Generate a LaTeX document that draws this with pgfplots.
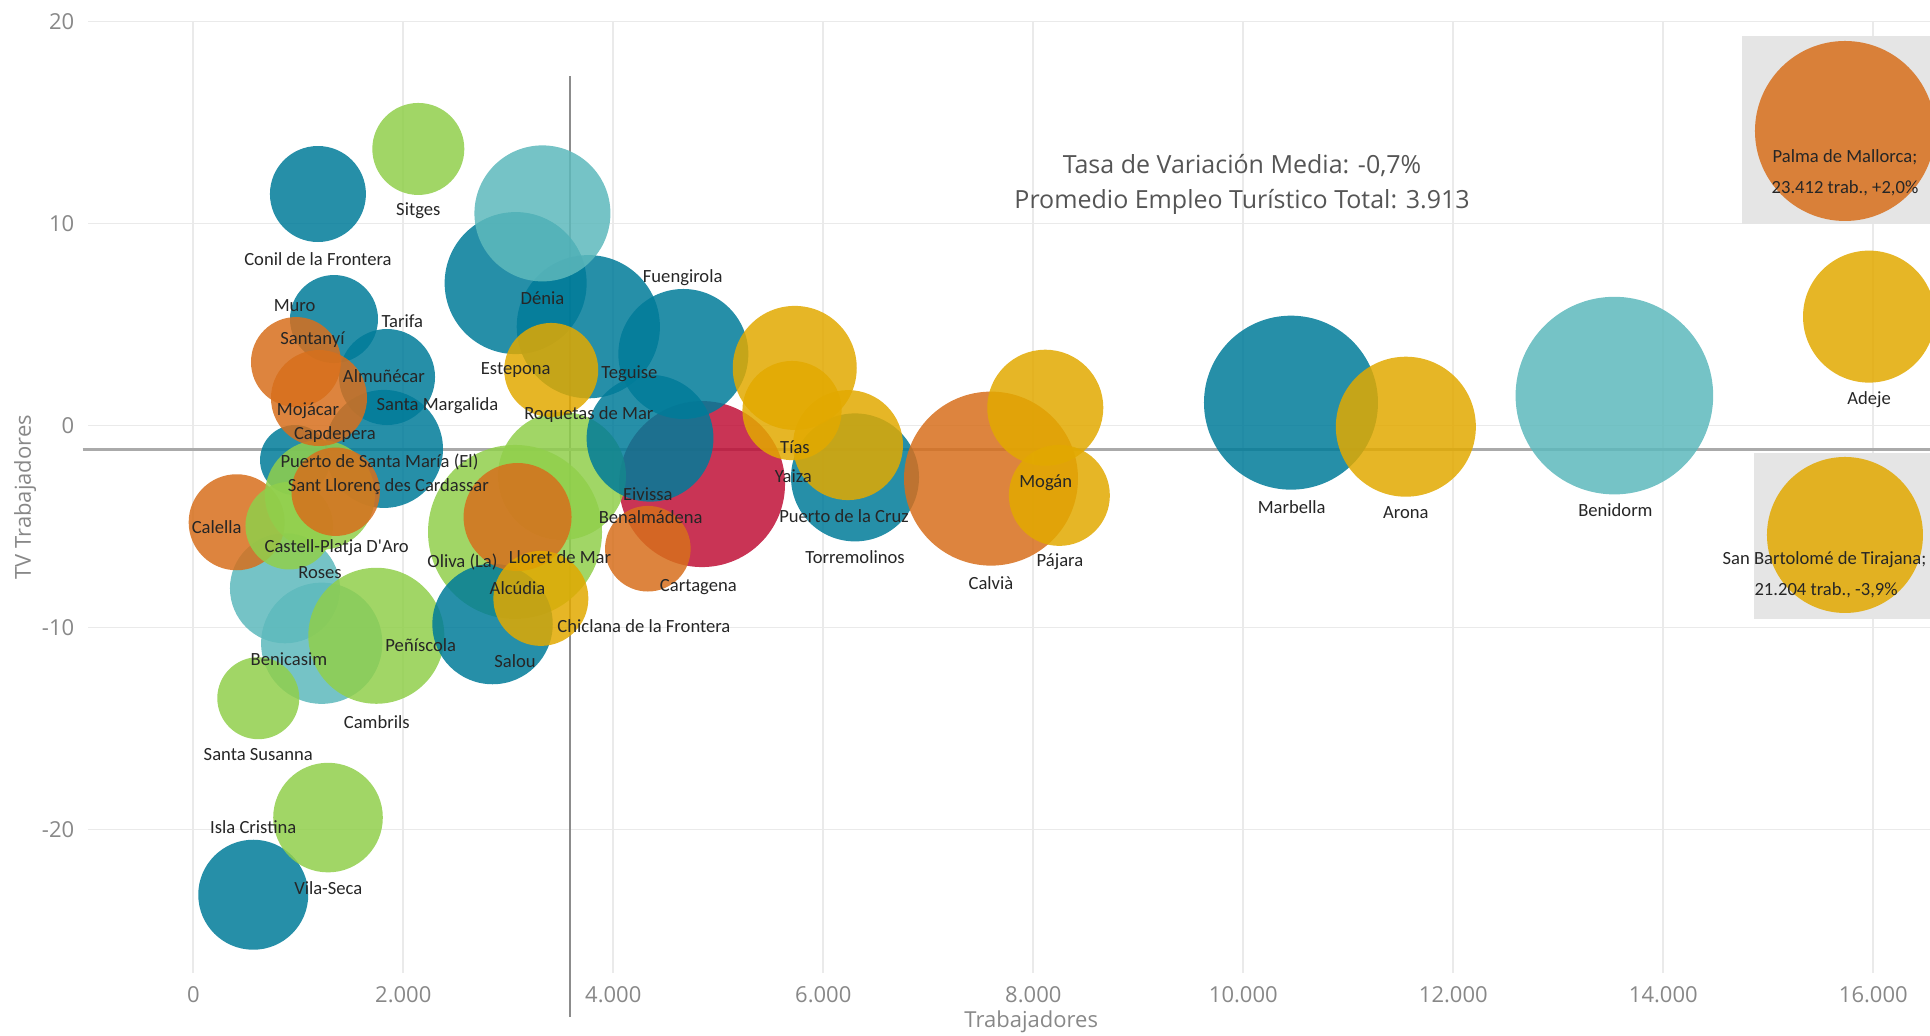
\documentclass[border=0pt]{standalone}
\usepackage{fontspec}
\setmainfont{Open Sans}
\newfontfamily\labfont{Carlito}
\usepackage{pgfplots}
\pgfplotsset{compat=1.18}
\usepackage{pgfplotstable}
\usetikzlibrary{calc}

\definecolor{dteal}{RGB}{0,123,153}
\definecolor{lteal}{RGB}{93,185,188}
\definecolor{lgreen}{RGB}{144,207,75}
\definecolor{orng}{RGB}{215,111,28}
\definecolor{yllw}{RGB}{226,169,0}
\definecolor{crim}{RGB}{191,16,55}
\definecolor{gridc}{RGB}{234,234,234}
\definecolor{tickc}{RGB}{136,136,136}
\definecolor{labc}{RGB}{38,38,38}
\definecolor{annc}{RGB}{85,85,85}
\definecolor{boxc}{RGB}{229,229,229}
\definecolor{meanv}{RGB}{140,140,140}
\definecolor{meanh}{RGB}{170,170,170}

% ; y , no pueden ir tal cual en las etiquetas de la tabla
\def\sc{\char59\relax}
\def\cm{\char44\relax}

% x = trabajadores, y = tasa de variacion (%), r = radio de la burbuja (pt)
\pgfplotstableread{
x y r
4845 -2.90 41.5
}\tCrim

\pgfplotstableread{
x y r
1187 11.46 24
1340 5.27 22
1845 2.40 24
1816 -1.16 29.5
969 -1.71 17.5
3070 7.05 35.5
3762 4.89 35.8
4667 3.54 32.5
6302 -2.57 32
571 -23.23 27.5
10454 1.13 43.5
}\tDteal

% las dos burbujas azules que quedan por encima de las verdes
\pgfplotstableread{
x y r
4350 -0.63 31.7
2850 -9.83 30.1
}\tDtealB

\pgfplotstableread{
x y r
3325 10.50 34
873 -8.06 27.5
1223 -10.78 30.3
13534 1.48 49.4
}\tLteal

\pgfplotstableread{
x y r
413 -4.79 24
}\tOrngA

\pgfplotstableread{
x y r
2143 13.69 23
1206 -3.44 27.5
914 -4.96 21.9
1743 -10.41 34
619 -13.50 20.5
1283 -19.41 27.4
3064 -5.27 43.5
3511 -2.50 32
}\tGreen

\pgfplotstableread{
x y r
978 3.14 22.5
1197 1.36 24
1356 -3.28 22.1
3088 -4.53 27
4329 -6.10 21.4
7597 -2.63 43.5
15730 14.58 45
}\tOrng

\pgfplotstableread{
x y r
3409 2.75 23.5
3310 -8.56 23.75
5728 2.85 31
5702 0.74 24.8
6235 -0.97 27.5
8114 0.88 29
8248 -3.46 25.25
11548 -0.06 35
15959 5.39 33
15730 -5.42 39
}\tYllw

\pgfplotstableread{
x y label
2143 10.63 Sitges
1187 8.23 {Conil de la Frontera}
3325 6.30 Dénia
965 5.92 Muro
1990 5.14 Tarifa
1135 4.23 Santanyí
1815 2.42 Almuñécar
3071 2.76 Estepona
4153 2.58 Teguise
1092 0.73 Mojácar
2326 0.97 {Santa Margalida}
3767 0.54 {Roquetas de Mar}
1348 -0.47 Capdepera
1773 -1.79 {Puerto de Santa María (El)}
1858 -3.03 {Sant Llorenç des Cardassar}
4661 7.34 Fuengirola
223 -5.01 Calella
1366 -6.03 {Castell-Platja D'Aro}
1207 -7.29 Roses
2564 -6.78 {Oliva (La)}
3492 -6.51 {Lloret de Mar}
3088 -8.06 Alcúdia
5730 -1.10 Tías
5714 -2.53 Yaiza
4328 -3.39 Eivissa
4356 -4.56 Benalmádena
6197 -4.48 {Puerto de la Cruz}
6302 -6.52 Torremolinos
4810 -7.98 Cartagena
4292 -9.93 {Chiclana de la Frontera}
3064 -11.68 Salou
911 -11.56 Benicasim
2166 -10.87 Peñíscola
1747 -14.66 Cambrils
619 -16.31 {Santa Susanna}
571 -19.89 {Isla Cristina}
1286 -22.91 Vila-Seca
8118 -2.81 Mogán
8254 -6.74 Pájara
7597 -7.78 Calvià
10461 -4.02 Marbella
11548 -4.30 Arona
13544 -4.18 Benidorm
15959 1.30 Adeje
15535 -6.66 {San Bartolomé de Tirajana\sc}
15550 -8.18 {21.204 trab.\cm{} -3\cm 9\%}
15730 13.29 {Palma de Mallorca\sc}
15730 11.76 {23.412 trab.\cm{} +2\cm 0\%}
}\tLabels

\pgfplotsset{
  bubble/.style={scatter, only marks, mark=*,
    scatter/use mapped color={draw=#1, draw opacity=0, fill=#1, fill opacity=0.85},
    visualization depends on={\thisrow{r} \as \rr},
    scatter/@pre marker code/.append style={/tikz/mark size=\rr}},
}

\begin{document}
\begin{tikzpicture}
\begin{axis}[
  name=ax, at={(0,0)}, anchor=south west,
  scale only axis, width=920.85pt, height=475.7pt,
  xmin=-1000, xmax=16540, ymin=-27.1, ymax=20,
  clip=false,
  axis line style={draw=none}, tick style={draw=none},
  xtick={0,2000,...,16000}, ytick={-20,-10,0,10,20},
  xmajorgrids, ymajorgrids,
  grid style={draw=gridc, line width=0.9pt},
  scaled x ticks=false,
  /pgf/number format/1000 sep={.},
  /pgf/number format/assume math mode=true,
  tick label style={font=\fontsize{11}{13}\selectfont, text=tickc},
  xticklabel style={yshift=-3.4pt},
  yticklabel style={xshift=-3.5pt},
  xlabel={Trabajadores}, ylabel={TV Trabajadores},
  every axis x label/.style={at={(axis description cs:0.512,-0.0515)}, anchor=center,
    font=\fontsize{11}{13}\selectfont, text=tickc},
  every axis y label/.style={at={(axis description cs:-0.0343,0.5)}, rotate=90, anchor=center,
    font=\fontsize{11}{13}\selectfont, text=tickc},
]
% zonas grises de las dos etiquetas destacadas
\fill[boxc] (axis cs:14749,9.98) rectangle (axis cs:16540,19.26);
\fill[boxc] (axis cs:14864,-9.58) rectangle (axis cs:16540,-1.35);

% lineas de las medias
\addplot[draw=meanv, line width=0.8pt, mark=none] coordinates {(3590,17.3) (3590,-29.28)};
\addplot[draw=meanh, line width=1.3pt, mark=none] coordinates {(-1054,-1.2) (16540,-1.2)};

\addplot[bubble=crim] table {\tCrim};
\addplot[bubble=dteal] table {\tDteal};
\addplot[bubble=lteal] table {\tLteal};
\addplot[bubble=orng] table {\tOrngA};
\addplot[bubble=lgreen] table {\tGreen};
\addplot[bubble=dteal] table {\tDtealB};
\addplot[bubble=orng] table {\tOrng};
\addplot[bubble=yllw] table {\tYllw};

\addplot[only marks, mark=none, nodes near coords, point meta=explicit symbolic,
  every node near coord/.append style={anchor=center, inner sep=0pt,
    font=\labfont\fontsize{9.3}{11}\selectfont, text=labc}]
  table[meta=label] {\tLabels};

\node[font=\fontsize{12.5}{15}\selectfont, text=annc] at (axis cs:9988,12.85)
  {Tasa de Variación Media: -0,7\%};
\node[font=\fontsize{12.5}{15}\selectfont, text=annc] at (axis cs:9988,11.06)
  {Promedio Empleo Turístico Total: 3.913};
\end{axis}
\pgfresetboundingbox
\path[use as bounding box] ($(ax.south west)+(-44.15pt,-31.05pt)$)
  rectangle ($(ax.north east)+(0pt,10.75pt)$);
\end{tikzpicture}
\end{document}
